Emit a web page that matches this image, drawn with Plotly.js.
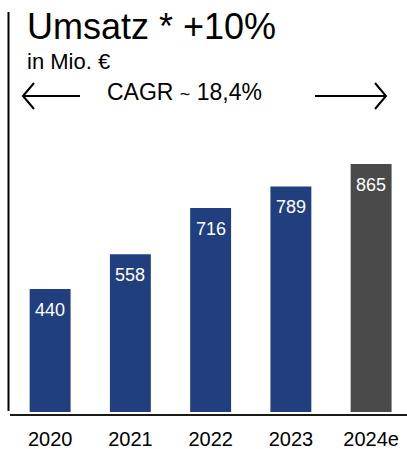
<!DOCTYPE html>
<html>
<head>
<meta charset="utf-8">
<script src="https://cdn.plot.ly/plotly-3.0.1.min.js"></script>
<style>
  html, body { margin: 0; padding: 0; background: #ffffff; }
  #chart { width: 407px; height: 449px; }
</style>
</head>
<body>
<div id="chart"></div>
<script>
// ---- data ----
const years = ["2020", "2021", "2022", "2023", "2024e"];
const revenue = [440, 558, 716, 789, 865];
const barColors = ["#213f7e", "#213f7e", "#213f7e", "#213f7e", "#4a4a4a"];
const titleText = "Umsatz * +10%";
const subtitleText = "in Mio. €";
const cagrText = "CAGR <span style=\"font-size:18px\">~</span> 18,4%";

// ---- layout geometry (pixels) ----
const W = 407, H = 449;
const M = { l: 10, r: 0, t: 12, b: 37 };
const plotW = W - M.l - M.r, plotH = H - M.t - M.b;
const px = x => (x - M.l) / plotW;          // pixel x -> paper x
const py = y => (H - M.b - y) / plotH;      // pixel y -> paper y
const FONT = "Liberation Sans, Arial, sans-serif";

function pathFromPixels(points) {
  return points.map((p, i) => (i ? "L" : "M") + px(p[0]).toFixed(5) + "," + py(p[1]).toFixed(5)).join(" ");
}

const lineStyle = { color: "#000000", width: 2 };
const shapes = [
  { type: "path", xref: "paper", yref: "paper", path: pathFromPixels([[8.5, 12], [8.5, 411]]), line: lineStyle },
  { type: "path", xref: "paper", yref: "paper", path: pathFromPixels([[10, 415], [407, 415]]), line: { color: "#1a1a1a", width: 2 } },
  { type: "path", xref: "paper", yref: "paper", path: pathFromPixels([[80, 96], [23, 96]]), line: lineStyle },
  { type: "path", xref: "paper", yref: "paper", path: pathFromPixels([[34, 83], [23, 96], [34, 109]]), line: lineStyle },
  { type: "path", xref: "paper", yref: "paper", path: pathFromPixels([[315, 96], [386, 96]]), line: lineStyle },
  { type: "path", xref: "paper", yref: "paper", path: pathFromPixels([[375, 83], [386, 96], [375, 109]]), line: lineStyle }
];

const annotations = [
  { text: titleText, xref: "paper", yref: "paper", x: px(25), y: py(26), xanchor: "left", yanchor: "middle",
    showarrow: false, font: { family: FONT, size: 36, color: "#000000" } },
  { text: subtitleText, xref: "paper", yref: "paper", x: px(25), y: py(61), xanchor: "left", yanchor: "middle",
    showarrow: false, font: { family: FONT, size: 22, color: "#000000" } },
  { text: cagrText, xref: "paper", yref: "paper", x: px(184), y: py(92), xanchor: "center", yanchor: "middle",
    showarrow: false, font: { family: FONT, size: 23, color: "#000000" } }
];
years.forEach((yr, i) => {
  annotations.push({
    text: String(revenue[i]), x: i, y: revenue[i], xref: "x", yref: "y",
    xanchor: "center", yanchor: "top", yshift: -9, showarrow: false,
    font: { family: FONT, size: 18, color: "#ffffff" }
  });
});

const trace = {
  type: "bar",
  x: years,
  y: revenue,
  marker: { color: barColors, line: { width: 0 } },
  hoverinfo: "skip"
};

const layout = {
  width: W, height: H,
  margin: M,
  paper_bgcolor: "#ffffff",
  plot_bgcolor: "#ffffff",
  showlegend: false,
  bargap: 0.49,
  xaxis: {
    type: "category",
    range: [-0.5, 4.447],
    showgrid: false, zeroline: false, showline: false, ticks: "",
    ticklabelstandoff: 13,
    tickfont: { family: FONT, size: 20, color: "#000000" },
    fixedrange: true
  },
  yaxis: {
    range: [22, 1382],
    showgrid: false, zeroline: false, showline: false, showticklabels: false, ticks: "",
    fixedrange: true
  },
  shapes: shapes,
  annotations: annotations
};

Plotly.newPlot("chart", [trace], layout, { staticPlot: true, displayModeBar: false });
</script>
</body>
</html>
